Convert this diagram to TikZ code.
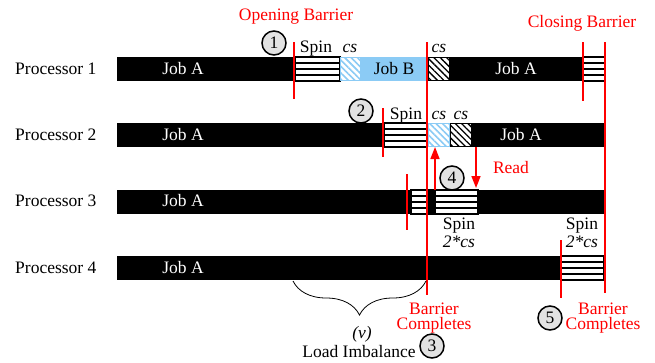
\documentclass[tikz,border=0pt]{standalone}
\usepackage{fontspec}
\setmainfont{Liberation Serif}
\usetikzlibrary{arrows.meta,patterns.meta,decorations.pathreplacing}
\definecolor{rojo}{HTML}{FF0000}
\definecolor{celeste}{HTML}{8BCBF5}
\definecolor{grisclaro}{HTML}{E2E2E2}
\tikzset{
  trabajo/.style={fill=black},
  giro/.style={draw=black,fill=white,line width=1.3pt},
  cs/.style={draw=black,line width=1pt,preaction={fill=white},pattern={Lines[angle=-45,distance=4.5pt,line width=1.3pt]},pattern color=black},
  csazul/.style={draw=celeste,line width=1pt,preaction={fill=white},pattern={Lines[angle=-45,distance=4.5pt,line width=1.6pt]},pattern color=celeste},
  barrera/.style={rojo,line width=2pt},
  flecharoja/.style={-{Triangle[length=12pt,width=9pt]},rojo,line width=1.6pt},
  texto/.style={inner sep=0pt},
  textorojo/.style={texto,text=rojo},
  textoblanco/.style={texto,text=white},
  circulo/.style={circle,draw=black,line width=1.5pt,fill=grisclaro,minimum size=24pt,inner sep=0pt},
}

\begin{document}
\begin{tikzpicture}[x=1pt,y=-1pt,font=\fontsize{17.5}{18}\selectfont]
  \useasboundingbox (0,0) rectangle (655,362);

  % filas de procesadores
  \foreach \n/\y in {1/69,2/135,3/201,4/268}
    \node[texto,anchor=west] (proc\n) at (15,\y) {Processor \n};

  % tramos de trabajo
  \fill[trabajo] (117,57) rectangle (295,81);
  \fill[trabajo] (449,57) rectangle (583,81);
  \fill[trabajo] (117,123) rectangle (384,147);
  \fill[trabajo] (471,123) rectangle (605,147);
  \fill[trabajo] (117,190) rectangle (411,214);
  \fill[trabajo] (478,190) rectangle (605,214);
  \fill[trabajo] (117,256) rectangle (561,280);
  \fill[celeste] (360,57) rectangle (427,81);

  % esperas activas (spin)
  \foreach \xa/\xb/\ya in {295/340/57,583/605/57,384/427/123,411/427/190,435/478/190,561/604/256}{
    \draw[giro] (\xa,\ya) rectangle (\xb,\ya+24);
    \foreach \k in {6,12,18}
      \draw[line width=1.2pt] (\xa,\ya+\k) -- (\xb,\ya+\k);
  }
  \fill[trabajo] (427,189) rectangle (435,215);

  % secciones criticas
  \path[csazul] (340.5,57.5) rectangle (360,80.5);
  \path[cs] (428,57.5) rectangle (449,80.5);
  \path[csazul] (428,123.5) rectangle (449,146.5);
  \path[cs] (450,123.5) rectangle (471,146.5);

  % barreras
  \draw[barrera] (294,42) -- (294,99);
  \draw[barrera] (427,42) -- (427,295);
  \draw[barrera] (583,42) -- (583,101);
  \draw[barrera] (605,42) -- (605,293);
  \draw[barrera] (383,108) -- (383,157);
  \draw[barrera] (407,174) -- (407,230);
  \draw[barrera] (561,240) -- (561,298);

  % textos de las barras
  \node[textoblanco] (joba1) at (183,69) {Job A};
  \node[textoblanco] (joba1b) at (516,69) {Job A};
  \node[texto] (jobb) at (394,69) {Job B};
  \node[textoblanco] (joba2) at (183,135) {Job A};
  \node[textoblanco] (joba2b) at (521,135) {Job A};
  \node[textoblanco] (joba3) at (183,201) {Job A};
  \node[textoblanco] (joba4) at (183,268) {Job A};

  \node[textorojo] (apertura) at (296,17) {Opening Barrier};
  \node[textorojo] (cierre) at (582,23) {Closing Barrier};

  \node[texto,anchor=base] (spin1) at (316,52) {Spin};
  \node[texto,anchor=base] (cs1) at (350,52) {\textit{cs}};
  \node[texto,anchor=base] (cs1b) at (439,52) {\textit{cs}};
  \node[texto,anchor=base] (spin2) at (406,119) {Spin};
  \node[texto,anchor=base] (cs2) at (439,119) {\textit{cs}};
  \node[texto,anchor=base] (cs2b) at (461,119) {\textit{cs}};
  \node[texto,align=center] (spin3) at (459,233) {Spin\\\textit{2*cs}};
  \node[texto,align=center] (spin4) at (582,233) {Spin\\\textit{2*cs}};

  % lectura entre procesadores 2 y 3
  \coordinate (sube3) at (435,190);
  \coordinate (sube2) at (435,147);
  \coordinate (baja2) at (476,147);
  \coordinate (baja3) at (476,188);
  \draw[flecharoja] (sube3) -- (sube2);
  \draw[flecharoja] (baja2) -- (baja3);
  \node[textorojo] (lee) at (511,168) {Read};

  % desbalance
  \draw[decorate,decoration={brace,mirror,amplitude=34pt},line width=0.8pt] (293,281) -- (426,281);
  \node[texto] (nu) at (362,334) {\textit{(v)}};
  \node[texto] (desbalance) at (359,352) {Load Imbalance};

  \node[textorojo,align=center,font=\fontsize{17.5}{15}\selectfont] (fin1) at (434,318) {Barrier\\Completes};
  \node[textorojo,align=center,font=\fontsize{17.5}{15}\selectfont] (fin2) at (603,318) {Barrier\\Completes};

  % pasos numerados
  \node[circulo] (paso1) at (274,43) {1};
  \node[circulo] (paso2) at (361,111) {2};
  \node[circulo] (paso3) at (432,346) {3};
  \node[circulo] (paso4) at (452,178) {4};
  \node[circulo] (paso5) at (550,318) {5};
\end{tikzpicture}
\end{document}
